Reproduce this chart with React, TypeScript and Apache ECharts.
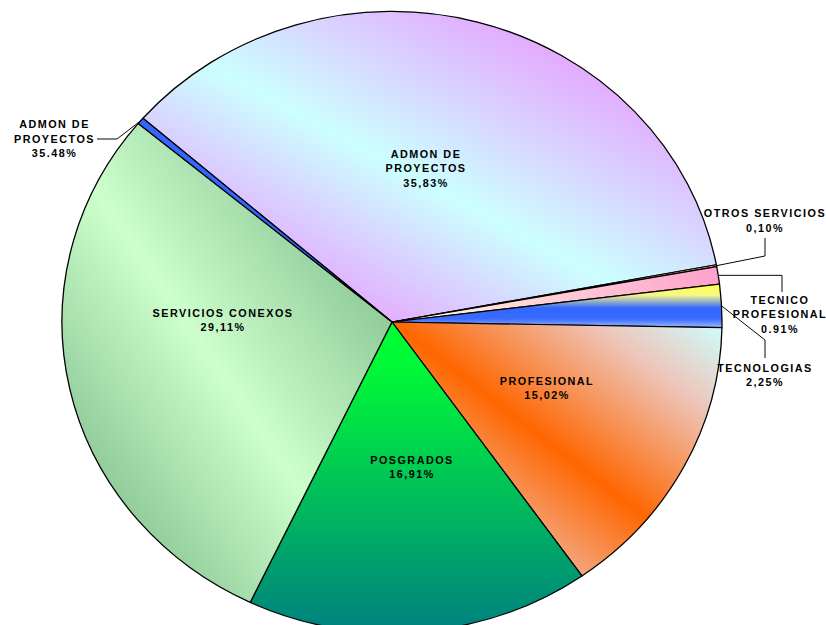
import React, { useEffect, useRef } from "react";
import * as echarts from "echarts";

// ---- data ----
const sliceNames = [
  "ADMON DE\nPROYECTOS",
  "OTROS SERVICIOS",
  "TECNICO\nPROFESIONAL",
  "TECNOLOGIAS",
  "PROFESIONAL",
  "POSGRADOS",
  "SERVICIOS CONEXOS",
  "ADMON DE\nPROYECTOS",
];
const sliceValues = [35.83, 0.1, 0.91, 2.25, 15.02, 16.91, 29.11, 0.35];
const percentLabels = ["35,83%", "0,10%", "0.91%", "2,25%", "15,02%", "16,91%", "29,11%", "35.48%"];
const outsideLabel = [false, true, true, true, false, false, false, true];

// ---- geometry (pie drawn as a circle, then squashed vertically into the reference ellipse) ----
const CX = 392;
const CY = 362; // centre inside the chart div
const R = 330;
const K = 0.941; // vertical squash factor
const PAGE_CY = 322;
const toDivY = (pageY: number) => CY + (pageY - PAGE_CY) / K;

// label anchors in page coordinates
const labelAnchors: number[][] = [
  [426, 169],
  [765, 221],
  [780, 314.7],
  [765, 375.5],
  [547, 388.4],
  [412, 467.7],
  [223, 320.7],
  [54.5, 139.3],
];
// leader-line bends (page coordinates); null y = same height as rim point
const leaderBends: (null | (number | null)[][])[] = [
  null,
  [[765, 256], [765, 238]],
  [[782, null], [782, 292]],
  [[765, 340], [765, 358]],
  null,
  null,
  null,
  [[117, 139], [97, 139]],
];

const lin = (x: number, y: number, x2: number, y2: number, stops: [number, string][]) => ({
  type: "linear",
  x,
  y,
  x2,
  y2,
  colorStops: stops.map(([offset, color]) => ({ offset, color })),
});

const sliceFills = [
  lin(0, 1, 1, 0, [
    [0, "#e6a6ff"],
    [0.2, "#e4aaff"],
    [0.47, "#ccffff"],
    [0.8, "#e4a9ff"],
    [1, "#e6a6ff"],
  ]),
  "#ffcc99",
  lin(0, 0, 1, 0, [
    [0, "#fffce0"],
    [1, "#ffa0cc"],
  ]),
  lin(0, 0, 0, 1, [
    [0, "#ffff44"],
    [0.25, "#f8f888"],
    [0.55, "#3366ff"],
    [0.8, "#3a6cff"],
    [1, "#a0b8ff"],
  ]),
  lin(1, 0, 0, 1, [
    [0, "#ccffff"],
    [0.2, "#eec4b8"],
    [0.5, "#ff6600"],
    [0.8, "#eec0b0"],
    [1, "#ccffff"],
  ]),
  lin(0, 0, 0, 1, [
    [0, "#00ff33"],
    [0.15, "#00f836"],
    [1, "#008080"],
  ]),
  lin(0, 1, 1, 0, [
    [0, "#6aaa7a"],
    [0.48, "#ccffcc"],
    [1, "#6aaa7a"],
  ]),
  "#3366ff",
];

export default function App() {
  const ref = useRef<HTMLDivElement>(null);

  useEffect(() => {
    if (!ref.current) return;
    const chart = echarts.init(ref.current, null, { renderer: "svg" });
    chart.setOption({
      animation: false,
      backgroundColor: "transparent",
      series: [
        {
          type: "pie",
          center: [CX, CY],
          radius: R,
          startAngle: 139,
          clockwise: true,
          avoidLabelOverlap: false,
          silent: true,
          emphasis: { disabled: true },
          itemStyle: { borderColor: "#000", borderWidth: 1.3 },
          label: {
            formatter: (p: any) => sliceNames[p.dataIndex] + "\n" + percentLabels[p.dataIndex],
            fontFamily: "'Liberation Sans', Arial, sans-serif",
            fontWeight: "bold",
            fontSize: 10.8,
            lineHeight: 15.5,
            color: "#000",
            align: "center",
          },
          labelLine: { lineStyle: { color: "#000", width: 1 }, length: 15, length2: 15, smooth: false },
          labelLayout: (params: any) => {
            const i = params.dataIndex;
            const [px, py] = labelAnchors[i];
            const res: any = { x: px, y: toDivY(py), align: "center", verticalAlign: "middle" };
            const bends = leaderBends[i];
            if (bends && params.labelLinePoints) {
              const rim = params.labelLinePoints[0];
              const b0 = bends[0];
              const b1 = bends[1];
              res.labelLinePoints = [
                [rim[0], rim[1]],
                [b0[0] as number, b0[1] == null ? rim[1] : toDivY(b0[1] as number)],
                [b1[0] as number, toDivY(b1[1] as number)],
              ];
            }
            return res;
          },
          data: sliceNames.map((name, i) => ({
            name,
            value: sliceValues[i],
            itemStyle: { color: sliceFills[i] },
            label: { position: outsideLabel[i] ? "outside" : "inside" },
            labelLine: { show: outsideLabel[i] },
          })),
        },
      ],
    });
    return () => chart.dispose();
  }, []);

  return (
    <div
      style={{
        position: "fixed",
        left: 0,
        top: 0,
        width: 826,
        height: 625,
        overflow: "hidden",
        background: "#fff",
      }}
    >
      <style>{`.pie-host text { letter-spacing: 1.5px; }`}</style>
      <div
        ref={ref}
        className="pie-host"
        style={{
          position: "absolute",
          left: 0,
          top: PAGE_CY - CY,
          width: 826,
          height: 720,
          transform: `scaleY(${K})`,
          transformOrigin: `0px ${CY}px`,
        }}
      />
    </div>
  );
}
